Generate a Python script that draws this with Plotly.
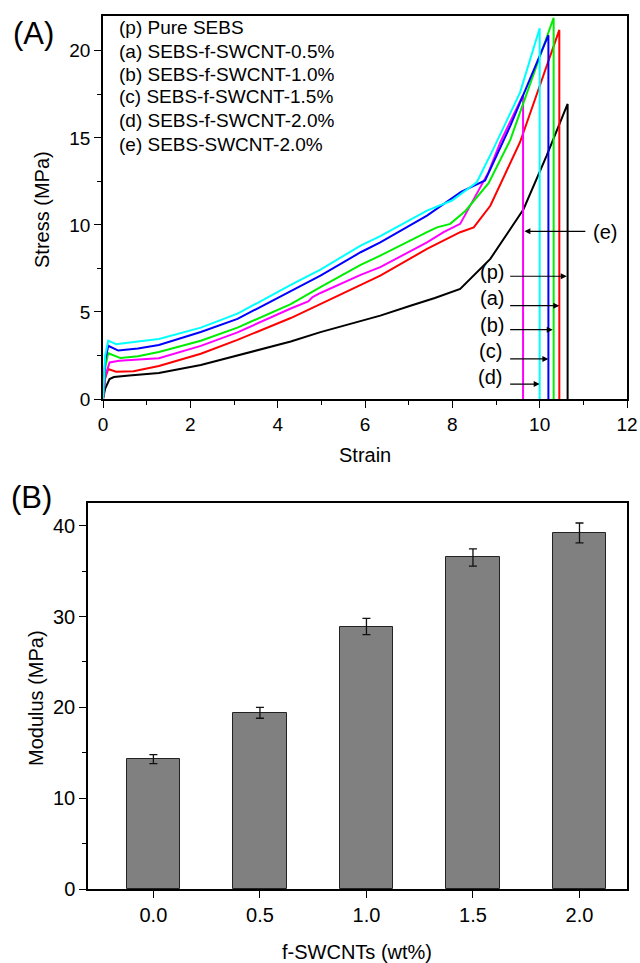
import plotly.graph_objects as go

# ---------------- Panel A data: stress-strain curves ----------------
strain_p = [0, 0.05, 0.15, 0.25, 0.6, 1.28, 2.24, 3.08, 4.3, 4.98, 5.9, 6.35, 7.04, 7.6, 8.18, 8.87, 9.63, 10.16, 10.64, 10.64]
stress_p = [0, 0.6, 1.15, 1.26, 1.35, 1.5, 1.95, 2.5, 3.3, 3.84, 4.5, 4.79, 5.36, 5.8, 6.32, 8.05, 10.9, 13.98, 16.95, 0]

strain_a = [0, 0.05, 0.12, 0.3, 0.7, 1.28, 2.24, 3.08, 4.3, 4.98, 5.9, 6.35, 7.42, 8.18, 8.49, 8.87, 9.55, 10.45, 10.45]
stress_a = [0, 1.2, 1.72, 1.57, 1.6, 1.9, 2.6, 3.4, 4.65, 5.46, 6.55, 7.09, 8.62, 9.58, 9.86, 11.1, 14.75, 21.2, 0]

strain_e = [0, 0.05, 0.15, 0.37, 1.0, 1.28, 2.24, 3.08, 4.3, 4.7, 4.8, 4.98, 5.9, 6.35, 7.42, 7.8, 8.18, 8.83, 9.1, 9.62, 9.62]
stress_e = [0, 1.3, 2.1, 2.2, 2.3, 2.34, 3.05, 3.83, 5.2, 5.6, 5.85, 6.09, 7.13, 7.57, 9.0, 9.58, 10.06, 13.03, 14.75, 17.47, 0]

strain_b = [0, 0.05, 0.12, 0.4, 0.8, 1.28, 2.24, 3.08, 4.3, 4.98, 5.9, 6.35, 7.42, 7.65, 7.95, 8.3, 8.83, 9.33, 10.32, 10.32]
stress_b = [0, 1.8, 2.63, 2.35, 2.45, 2.7, 3.35, 4.1, 5.45, 6.43, 7.7, 8.24, 9.58, 9.86, 10.06, 10.8, 12.4, 14.9, 21.9, 0]

strain_c = [0, 0.05, 0.12, 0.35, 0.8, 1.28, 2.24, 3.08, 4.3, 4.98, 5.9, 6.35, 7.42, 7.8, 8.2, 8.75, 9.33, 10.2, 10.2]
stress_c = [0, 2.2, 3.06, 2.78, 2.9, 3.1, 3.85, 4.6, 6.2, 7.09, 8.43, 9.0, 10.53, 11.2, 11.9, 12.55, 15.7, 20.9, 0]

strain_d = [0, 0.05, 0.12, 0.3, 0.8, 1.28, 2.24, 3.08, 4.3, 4.98, 5.9, 6.35, 7.42, 7.99, 8.56, 8.94, 9.55, 10.0, 10.0]
stress_d = [0, 2.5, 3.35, 3.15, 3.3, 3.45, 4.1, 4.9, 6.55, 7.43, 8.81, 9.35, 10.82, 11.4, 12.45, 14.37, 17.6, 21.3, 0]

legend_lines = [
    "(p) Pure SEBS",
    "(a) SEBS-f-SWCNT-0.5%",
    "(b) SEBS-f-SWCNT-1.0%",
    "(c) SEBS-f-SWCNT-1.5%",
    "(d) SEBS-f-SWCNT-2.0%",
    "(e) SEBS-SWCNT-2.0%",
]

# arrow markers: label, label x, label y, arrow tail x, arrow head x, arrow y
arrow_labels = ["(e)", "(p)", "(a)", "(b)", "(c)", "(d)"]
arrow_label_x = [11.5, 8.9, 8.9, 8.9, 8.88, 8.86]
arrow_label_y = [9.6, 7.3, 5.8, 4.25, 2.78, 1.28]
arrow_tail_x = [11.08, 9.29, 9.29, 9.29, 9.29, 9.29]
arrow_head_x = [9.65, 10.62, 10.45, 10.3, 10.2, 10.0]
arrow_y = [9.63, 7.05, 5.36, 3.98, 2.3, 0.86]

# ---------------- Panel B data: modulus bars ----------------
swcnt_wt = [0.0, 0.5, 1.0, 1.5, 2.0]
swcnt_labels = ["0.0", "0.5", "1.0", "1.5", "2.0"]
modulus = [14.3, 19.4, 28.9, 36.5, 39.2]
modulus_err = [0.5, 0.6, 0.9, 0.95, 1.1]

FONT = "Liberation Sans, Arial, sans-serif"
W, H = 640, 963

fig = go.Figure()

curves = [
    (strain_p, stress_p, "black", "(p)"),
    (strain_a, stress_a, "#ff0000", "(a)"),
    (strain_e, stress_e, "#ff00ff", "(e)"),
    (strain_b, stress_b, "#00ee00", "(b)"),
    (strain_c, stress_c, "#0000ff", "(c)"),
    (strain_d, stress_d, "#00ffff", "(d)"),
]
for xs, ys, col, nm in curves:
    fig.add_trace(go.Scatter(x=xs, y=ys, mode="lines", name=nm,
                             line=dict(color=col, width=2),
                             xaxis="x", yaxis="y", showlegend=False))

fig.add_trace(go.Bar(x=swcnt_wt, y=modulus, width=0.25,
                     marker=dict(color="#808080", line=dict(color="#222222", width=1)),
                     error_y=dict(type="data", array=modulus_err, visible=True,
                                  color="#111111", thickness=1.3, width=4),
                     xaxis="x2", yaxis="y2", showlegend=False))

def axis_common(fs):
    return dict(showline=True, linecolor="black", linewidth=1.5, mirror=True,
                ticks="outside", ticklen=7, tickwidth=1.3, tickcolor="black",
                showgrid=False, zeroline=False, automargin=False,
                tickfont=dict(family=FONT, size=fs, color="black"))

minor_style = dict(ticklen=4, tickcolor="black", ticks="outside", tickwidth=1.2)

def px_x(p):
    return p / W

def px_y(p):
    return 1 - p / H

fig.update_layout(
    width=W, height=H,
    margin=dict(l=0, r=0, t=0, b=0),
    paper_bgcolor="white", plot_bgcolor="white",
    font=dict(family=FONT, size=18, color="black"),
    bargap=0,
    xaxis=dict(domain=[px_x(103), px_x(627)], range=[0, 12], dtick=2, tick0=0,
               anchor="y", minor=dict(dtick=1, **minor_style), **axis_common(19)),
    yaxis=dict(domain=[px_y(399), px_y(16)], range=[0, 22], dtick=5, tick0=0,
               anchor="x", minor=dict(dtick=2.5, **minor_style), **axis_common(19)),
    xaxis2=dict(domain=[px_x(88), px_x(627)], range=[-0.307, 2.223],
                tickvals=swcnt_wt, ticktext=swcnt_labels, anchor="y2",
                **axis_common(20)),
    yaxis2=dict(domain=[px_y(889), px_y(503)], range=[0, 42.5], dtick=10, tick0=0,
                anchor="x2", minor=dict(dtick=5, **minor_style), **axis_common(20)),
)

ann = []
ann.append(dict(text="(A)", x=px_x(33), y=px_y(34), xref="paper", yref="paper",
                showarrow=False, font=dict(family=FONT, size=31), xanchor="center", yanchor="middle"))
ann.append(dict(text="(B)", x=px_x(31), y=px_y(497), xref="paper", yref="paper",
                showarrow=False, font=dict(family=FONT, size=31), xanchor="center", yanchor="middle"))
ann.append(dict(text="Stress (MPa)", x=px_x(42), y=px_y(210), xref="paper", yref="paper",
                showarrow=False, textangle=-90, font=dict(family=FONT, size=20),
                xanchor="center", yanchor="middle"))
ann.append(dict(text="Strain", x=px_x(365), y=px_y(455), xref="paper", yref="paper",
                showarrow=False, font=dict(family=FONT, size=20), xanchor="center", yanchor="middle"))
ann.append(dict(text="Modulus (MPa)", x=px_x(36), y=px_y(698), xref="paper", yref="paper",
                showarrow=False, textangle=-90, font=dict(family=FONT, size=20),
                xanchor="center", yanchor="middle"))
ann.append(dict(text="f-SWCNTs (wt%)", x=px_x(357), y=px_y(952), xref="paper", yref="paper",
                showarrow=False, font=dict(family=FONT, size=20), xanchor="center", yanchor="middle"))
legend_y_px = [27, 51, 74, 97, 120, 144]
for txt, yp in zip(legend_lines, legend_y_px):
    ann.append(dict(text=txt, x=px_x(117), y=px_y(yp), xref="paper", yref="paper",
                    showarrow=False, font=dict(family=FONT, size=19),
                    xanchor="left", yanchor="middle"))
for lab, lx, ly, tx, hx, ay in zip(arrow_labels, arrow_label_x, arrow_label_y,
                                   arrow_tail_x, arrow_head_x, arrow_y):
    ann.append(dict(text="", x=hx, y=ay, ax=tx, ay=ay, xref="x", yref="y",
                    axref="x", ayref="y", showarrow=True, arrowhead=2,
                    arrowsize=1, arrowwidth=1.2, arrowcolor="black"))
    ann.append(dict(text=lab, x=lx, y=ly, xref="x", yref="y", showarrow=False,
                    font=dict(family=FONT, size=20), xanchor="center", yanchor="middle"))

fig.update_layout(annotations=ann)

fig.write_html("out.html", config={"displayModeBar": False},
               post_script="document.body.style.margin='0';document.body.style.padding='0';")
